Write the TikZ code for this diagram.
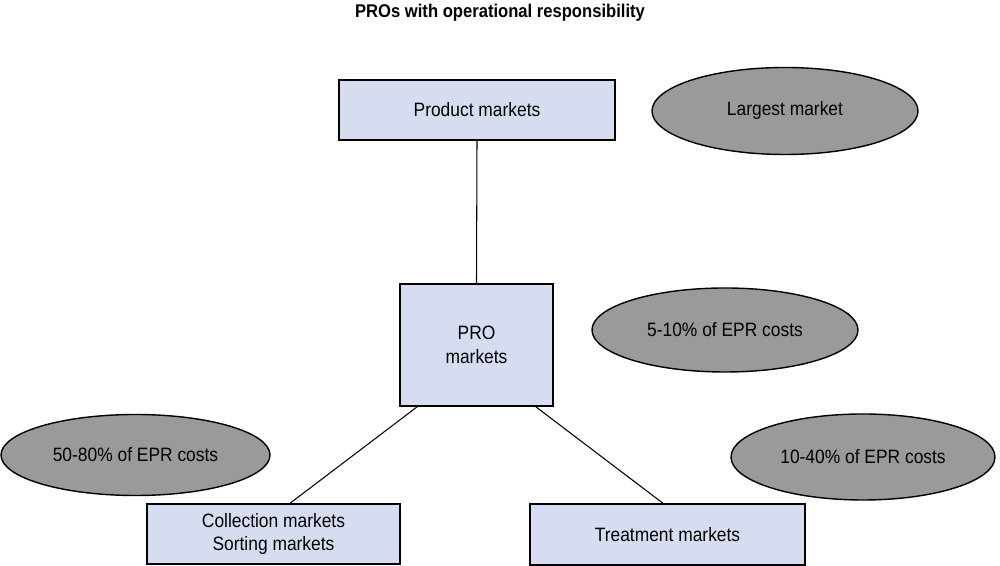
\documentclass[tikz,border=0pt]{standalone}
\usepackage{fontspec}
\setmainfont[FakeStretch=0.9]{Liberation Sans}
\usepackage{tikz}
\usetikzlibrary{shapes.geometric}

\definecolor{boxblue}{RGB}{214,221,240}
\definecolor{ovalgray}{RGB}{154,154,154}

\begin{document}
\begin{tikzpicture}[
  market/.style={draw=black, line width=0.8pt, fill=boxblue, align=center,
    font=\fontsize{11}{13.5}\selectfont, inner sep=0pt},
  share/.style={draw=black, line width=0.8pt, fill=ovalgray, ellipse,
    font=\fontsize{11}{13.5}\selectfont, inner sep=0pt}
]
\useasboundingbox (0,0) rectangle (20,11.32);

% Title
\node (title) at (10,11.06) {\bfseries\fontsize{10.5}{12}\selectfont PROs with operational responsibility};

% Markets
\node[market, minimum width=5.52cm, minimum height=1.2cm] (product) at (9.54,9.12) {Product markets};
\node[market, minimum width=3.06cm, minimum height=2.44cm] (pro) at (9.53,4.42) {PRO\\markets};
\node[market, minimum width=5.06cm, minimum height=1.2cm] (collect) at (5.47,0.64) {Collection markets\\Sorting markets};
\node[market, minimum width=5.5cm, minimum height=1.22cm] (treat) at (13.35,0.63) {Treatment markets};

% Cost shares
\node[share, minimum width=5.32cm, minimum height=1.74cm] (largest) at (15.7,9.1) {Largest market};
\node[share, minimum width=5.32cm, minimum height=1.68cm] (procost) at (14.5,4.72) {5-10\% of EPR costs};
\node[share, minimum width=5.38cm, minimum height=1.62cm] (collcost) at (2.71,2.22) {50-80\% of EPR costs};
\node[share, minimum width=5.28cm, minimum height=1.72cm] (treatcost) at (17.26,2.18) {10-40\% of EPR costs};

% Links
\draw[line width=0.6pt] (product.south) -- (pro.north);
\draw[line width=0.6pt] ([xshift=0.36cm]pro.south west) -- ([xshift=0.33cm]collect.north);
\draw[line width=0.6pt] ([xshift=-0.36cm]pro.south east) -- ([xshift=-0.09cm]treat.north);
\end{tikzpicture}
\end{document}
